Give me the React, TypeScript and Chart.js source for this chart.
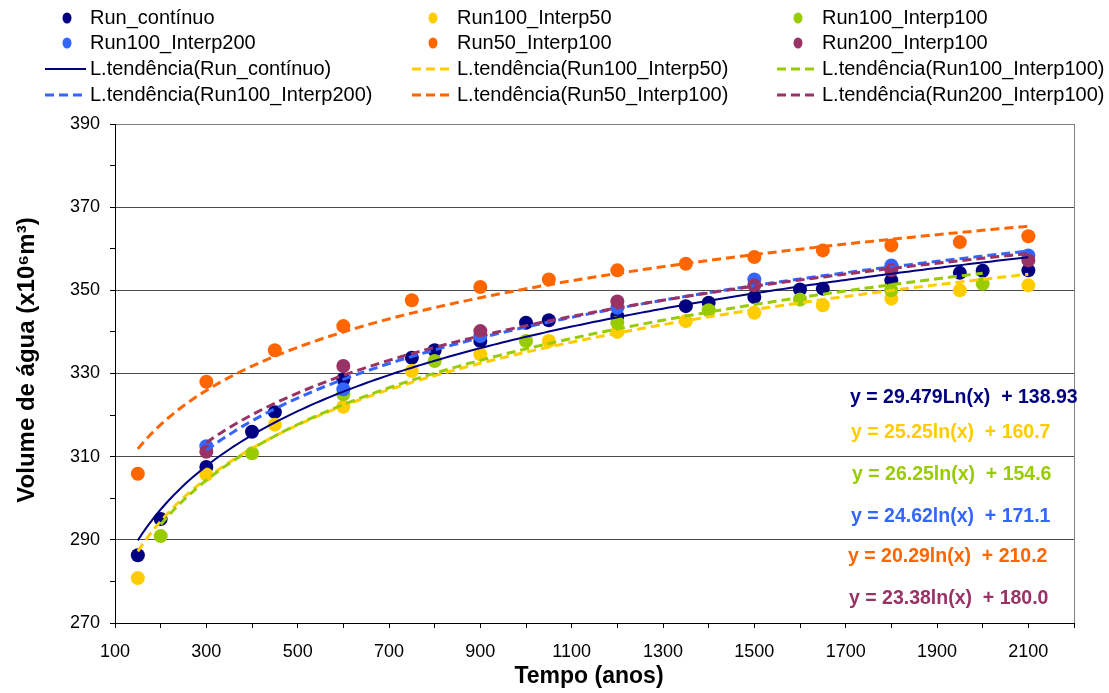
import React, { useEffect, useRef } from 'react';
import { Chart, registerables } from 'chart.js';

Chart.register(...registerables);

// ---------- data ----------
const seriesNames = ['Run_contínuo', 'Run100_Interp50', 'Run100_Interp100', 'Run100_Interp200', 'Run50_Interp100', 'Run200_Interp100'];
const seriesColors = ['#000080', '#FFCC00', '#99CC00', '#3366FF', '#FF6600', '#993366'];

const xRunContinuo = [150, 200, 300, 400, 450, 600, 750, 800, 900, 1000, 1050, 1200, 1350, 1400, 1500, 1600, 1650, 1800, 1950, 2000, 2100];
const yRunContinuo = [286.3, 295.0, 307.5, 316.0, 320.7, 328.6, 333.8, 335.6, 337.8, 342.2, 342.8, 343.8, 346.2, 347.0, 348.4, 350.2, 350.4, 352.4, 354.2, 354.7, 354.8];

const xRun100Interp50 = [150, 300, 450, 600, 750, 900, 1050, 1200, 1350, 1500, 1650, 1800, 1950, 2100];
const yRun100Interp50 = [280.8, 305.7, 317.7, 322.0, 330.6, 334.6, 337.8, 340.0, 342.6, 344.6, 346.4, 348.0, 350.0, 351.2];

const xRun100Interp100 = [200, 400, 600, 800, 1000, 1200, 1400, 1600, 1800, 2000];
const yRun100Interp100 = [290.9, 310.8, 325.0, 333.0, 337.8, 342.2, 345.2, 347.8, 350.0, 351.6];

const xRun100Interp200 = [300, 600, 900, 1200, 1500, 1800, 2100];
const yRun100Interp200 = [312.5, 326.2, 339.0, 345.8, 352.6, 356.0, 358.4];

const xRun50Interp100 = [150, 300, 450, 600, 750, 900, 1050, 1200, 1350, 1500, 1650, 1800, 1950, 2100];
const yRun50Interp100 = [305.9, 328.0, 335.6, 341.4, 347.6, 350.8, 352.6, 354.8, 356.4, 358.0, 359.6, 360.8, 361.6, 363.0];

const xRun200Interp100 = [300, 600, 900, 1200, 1500, 1800, 2100];
const yRun200Interp100 = [311.2, 331.8, 340.2, 347.3, 351.2, 354.8, 357.2];

// logarithmic trend lines y = a ln(x) + b, as drawn on the chart
const trendA = [25.8, 25.25, 26.25, 24.62, 20.29, 23.38];
const trendB = [160.6, 160.7, 154.6, 171.1, 210.2, 180.0];
// equations as printed on the chart
const trendLabels = [
  'y = 29.479Ln(x)  + 138.93',
  'y = 25.25ln(x)  + 160.7',
  'y = 26.25ln(x)  + 154.6',
  'y = 24.62ln(x)  + 171.1',
  'y = 20.29ln(x)  + 210.2',
  'y = 23.38ln(x)  + 180.0',
];

const xTickValues = [100, 200, 300, 400, 500, 600, 700, 800, 900, 1000, 1100, 1200, 1300, 1400, 1500, 1600, 1700, 1800, 1900, 2000, 2100, 2200];
const xLabelValues = [100, 300, 500, 700, 900, 1100, 1300, 1500, 1700, 1900, 2100];
const yTickValues = [270, 280, 290, 300, 310, 320, 330, 340, 350, 360, 370, 380, 390];
const yLabelValues = [270, 290, 310, 330, 350, 370, 390];

const xTitle = 'Tempo (anos)';
const yTitle = 'Volume de água (x10⁶m³)';

const seriesX = [xRunContinuo, xRun100Interp50, xRun100Interp100, xRun100Interp200, xRun50Interp100, xRun200Interp100];
const seriesY = [yRunContinuo, yRun100Interp50, yRun100Interp100, yRun100Interp200, yRun50Interp100, yRun200Interp100];

const FONT = '"Liberation Sans", Arial, sans-serif';

function trendPoints(i: number) {
  const xs = seriesX[i];
  const x0 = Math.min(...xs);
  const x1 = Math.max(...xs);
  const pts: { x: number; y: number }[] = [];
  for (let x = x0; x < x1; x += 10) pts.push({ x, y: trendA[i] * Math.log(x) + trendB[i] });
  pts.push({ x: x1, y: trendA[i] * Math.log(x1) + trendB[i] });
  return pts;
}

const overlayPlugin = {
  id: 'overlay',
  afterDraw(chart: any) {
    const ctx = chart.ctx as CanvasRenderingContext2D;
    ctx.save();
    // ----- legend -----
    const colText = [90, 457, 822];
    const colDot = [67, 433, 798];
    const colLine = [[45, 86], [412, 453], [777, 818]];
    const rowY = [18, 43, 69, 95];
    ctx.font = `20px ${FONT}`;
    ctx.textBaseline = 'middle';
    ctx.textAlign = 'left';
    for (let i = 0; i < 6; i++) {
      const col = i % 3;
      const row = Math.floor(i / 3);
      const y = rowY[row];
      ctx.fillStyle = seriesColors[i];
      ctx.beginPath();
      ctx.ellipse(colDot[col], y, 4.5, 5.5, 0, 0, Math.PI * 2);
      ctx.fill();
      ctx.fillStyle = '#000';
      ctx.fillText(seriesNames[i], colText[col], y);
    }
    for (let i = 0; i < 6; i++) {
      const col = i % 3;
      const row = 2 + Math.floor(i / 3);
      const y = rowY[row];
      ctx.strokeStyle = seriesColors[i];
      ctx.lineWidth = i === 0 ? 2 : 3;
      ctx.setLineDash(i === 0 ? [] : [9, 5]);
      ctx.beginPath();
      ctx.moveTo(colLine[col][0], y);
      ctx.lineTo(colLine[col][1], y);
      ctx.stroke();
      ctx.setLineDash([]);
      ctx.fillStyle = '#000';
      ctx.fillText('L.tendência(' + seriesNames[i] + ')', colText[col], y);
    }
    // ----- equations -----
    const eqY = [398, 433, 475, 517, 557, 599];
    const eqX = [850, 851, 852, 851, 848, 849];
    ctx.font = `bold 19.5px ${FONT}`;
    for (let i = 0; i < 6; i++) {
      ctx.fillStyle = seriesColors[i];
      ctx.fillText(trendLabels[i], eqX[i], eqY[i]);
    }
    // ----- axis titles -----
    ctx.fillStyle = '#000';
    ctx.font = `bold 23px ${FONT}`;
    ctx.textAlign = 'center';
    ctx.fillText(xTitle, 589, 677);
    ctx.font = `bold 24px ${FONT}`;
    ctx.translate(27, 360);
    ctx.rotate(-Math.PI / 2);
    ctx.fillText(yTitle, 0, 0);
    ctx.restore();
  },
};

export default function App() {
  const ref = useRef<HTMLCanvasElement>(null);
  useEffect(() => {
    if (!ref.current) return;
    const datasets: any[] = [];
    for (let i = 0; i < 6; i++) {
      datasets.push({
        label: 'L.tendência(' + seriesNames[i] + ')',
        data: trendPoints(i),
        showLine: true,
        pointRadius: 0,
        borderColor: seriesColors[i],
        backgroundColor: seriesColors[i],
        borderWidth: i === 0 ? 2 : 3,
        borderDash: i === 0 ? [] : [9, 5],
        order: 5 - i,
      });
    }
    for (let i = 0; i < 6; i++) {
      datasets.push({
        label: seriesNames[i],
        data: seriesX[i].map((x, k) => ({ x, y: seriesY[i][k] })),
        showLine: false,
        pointRadius: 7,
        pointBorderWidth: 0,
        pointBackgroundColor: seriesColors[i],
        pointBorderColor: seriesColors[i],
        order: 20 - i,
      });
    }
    const chart = new Chart(ref.current, {
      type: 'scatter',
      data: { datasets },
      options: {
        responsive: false,
        animation: false,
        layout: { padding: { top: 124, right: 35, left: 0, bottom: 0 } },
        plugins: { legend: { display: false }, tooltip: { enabled: false }, title: { display: false } },
        scales: {
          x: {
            type: 'linear',
            min: 100,
            max: 2200,
            afterBuildTicks: (s: any) => { s.ticks = xTickValues.map((v) => ({ value: v })); },
            afterFit: (s: any) => { s.height = 70; },
            ticks: {
              autoSkip: false,
              maxRotation: 0,
              minRotation: 0,
              padding: 13,
              color: '#000',
              font: { family: FONT, size: 18 },
              callback: (v: any) => (xLabelValues.includes(Number(v)) ? String(v) : ''),
            },
            grid: {
              color: (c: any) => (c.tick && c.tick.value === 2200 ? '#808080' : 'rgba(0,0,0,0)'),
              tickColor: '#000',
              tickLength: 5,
              drawTicks: true,
            },
            border: { color: '#000', width: 1 },
          },
          y: {
            type: 'linear',
            min: 270,
            max: 390,
            afterBuildTicks: (s: any) => { s.ticks = yTickValues.map((v) => ({ value: v })); },
            afterFit: (s: any) => { s.width = 115; },
            ticks: {
              autoSkip: false,
              padding: 10,
              color: '#000',
              font: { family: FONT, size: 18 },
              callback: (v: any) => (yLabelValues.includes(Number(v)) ? String(v) : ''),
            },
            grid: {
              color: (c: any) => {
                const v = c.tick ? c.tick.value : 0;
                if (v === 390) return '#808080';
                if (v === 270) return 'rgba(0,0,0,0)';
                return (v - 270) % 20 === 0 ? '#4a4a4a' : 'rgba(0,0,0,0)';
              },
              tickColor: '#000',
              tickLength: 5,
              drawTicks: true,
            },
            border: { color: '#000', width: 1 },
          },
        },
      },
      plugins: [overlayPlugin],
    });
    return () => chart.destroy();
  }, []);
  return (
    <div style={{ position: 'fixed', left: 0, top: 0, width: 1109, height: 693, background: '#fff' }}>
      <canvas ref={ref} width={1109} height={693} style={{ width: 1109, height: 693 }} />
    </div>
  );
}
